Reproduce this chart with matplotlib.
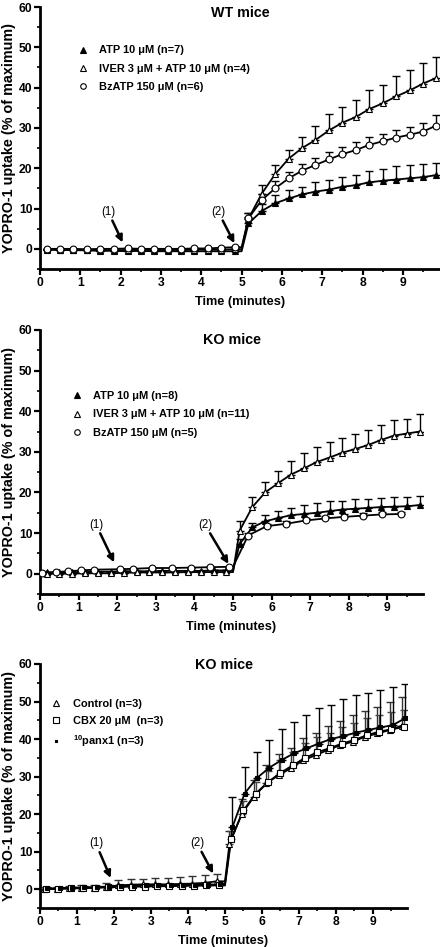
import numpy as np
import matplotlib
matplotlib.use("Agg")
import matplotlib.pyplot as plt
from matplotlib.lines import Line2D
from matplotlib.ticker import MultipleLocator

plt.rcParams['font.family'] = ['Liberation Sans', 'DejaVu Sans']
plt.rcParams['mathtext.fontset'] = 'custom'
plt.rcParams['mathtext.rm'] = 'Liberation Sans:bold'
plt.rcParams['mathtext.bf'] = 'Liberation Sans:bold'

# ---------------- data ----------------
t_pre = [0.17, 0.5, 0.83, 1.17, 1.5, 1.83, 2.17, 2.5, 2.83, 3.17, 3.5, 3.83, 4.17, 4.5, 4.83]
t_post = [5.17, 5.5, 5.83, 6.17, 6.5, 6.83, 7.17, 7.5, 7.83, 8.17, 8.5, 8.83, 9.17, 9.5, 9.83]

# Panel A: WT mice
wt_atp_pre = [-0.2, -0.3, -0.3, -0.4, -0.5, -0.5, -0.6, -0.5, -0.6, -0.6, -0.6, -0.6, -0.6, -0.6, -0.6]
wt_atp_post = [6.3, 9.4, 11.3, 12.5, 13.5, 14.2, 14.7, 15.4, 15.8, 16.5, 16.9, 17.2, 17.5, 17.8, 18.3]
wt_atp_err = [1.5, 1.8, 2.0, 2.1, 1.9, 2.3, 2.5, 2.5, 2.5, 2.8, 3.0, 3.3, 3.2, 3.2, 3.0]
wt_iver_pre = [-0.1, -0.2, -0.2, -0.3, -0.3, -0.3, -0.3, -0.2, -0.3, -0.3, -0.3, -0.2, -0.2, -0.2, -0.1]
wt_iver_post = [7.5, 13.7, 18.5, 22.4, 25.0, 27.0, 29.4, 31.3, 32.7, 34.7, 36.1, 37.8, 39.3, 41.0, 42.4]
wt_iver_err = [1.5, 2.1, 2.3, 2.2, 2.8, 3.4, 4.1, 4.0, 4.3, 4.6, 4.5, 5.1, 5.1, 5.2, 5.1]
wt_bz_pre = [0.0, 0.0, 0.0, -0.1, 0.0, 0.0, 0.1, 0.0, 0.0, 0.0, 0.0, 0.1, 0.1, 0.3, 0.4]
wt_bz_post = [7.6, 12.1, 15.0, 17.5, 19.4, 20.8, 22.2, 23.5, 24.5, 25.8, 26.7, 27.6, 28.3, 29.1, 30.6]
wt_bz_err = [1.2, 1.6, 1.8, 1.5, 1.6, 1.7, 1.8, 1.7, 2.0, 2.0, 1.9, 2.0, 2.0, 2.0, 2.7]

# Panel B: KO mice
ko_atp_pre = [0.3, 0.3, 0.4, 0.4, 0.5, 0.5, 0.6, 0.6, 0.6, 0.7, 0.7, 0.7, 0.7, 0.8, 0.8]
ko_atp_post = [7.3, 11.4, 12.9, 13.7, 14.4, 14.7, 15.0, 15.4, 15.8, 16.0, 16.2, 16.4, 16.5, 16.6, 16.9]
ko_atp_err = [1.2, 1.2, 1.6, 1.7, 1.8, 2.1, 2.4, 2.5, 2.2, 2.3, 2.2, 2.2, 2.3, 2.2, 2.2]
ko_iver_pre = [0.0, 0.0, 0.0, 0.1, 0.1, 0.1, 0.2, 0.3, 0.3, 0.3, 0.3, 0.4, 0.4, 0.4, 0.4]
ko_iver_post = [10.6, 16.4, 20.0, 22.3, 24.4, 25.9, 27.5, 28.6, 29.8, 30.7, 31.7, 32.9, 34.0, 34.5, 35.0]
ko_iver_err = [2.3, 2.6, 2.5, 3.0, 3.4, 3.7, 3.6, 3.9, 3.7, 3.8, 3.7, 3.7, 3.9, 3.5, 4.2]
ko_bz_t = [0.04, 0.41, 0.73, 1.06, 1.41, 2.07, 2.4, 2.89, 3.41, 3.91, 4.4, 4.9,
           5.39, 5.87, 6.38, 6.88, 7.38, 7.88, 8.37, 8.87, 9.36]
ko_bz = [0.1, 0.4, 0.6, 0.8, 1.0, 1.1, 1.2, 1.4, 1.4, 1.5, 1.6, 1.7,
         9.4, 11.7, 12.3, 13.1, 13.6, 14.0, 14.3, 14.6, 14.7]

# Panel C: KO mice, blockers
ctl_pre = [0.0, 0.1, 0.3, 0.4, 0.4, 0.6, 1.0, 1.2, 1.3, 1.3, 1.3, 1.4, 1.5, 1.7, 2.1]
ctl_pre_err = [0.5, 0.5, 0.5, 0.6, 0.7, 1.0, 1.5, 1.5, 1.5, 1.6, 1.7, 1.8, 1.9, 2.0, 2.0]
ctl_post = [12.0, 20.0, 24.6, 28.2, 30.4, 32.2, 34.4, 35.7, 37.1, 38.4, 39.3, 40.6, 41.5, 42.4, 43.6]
ctl_post_err = [3.5, 4.0, 4.5, 5.0, 5.5, 5.5, 6.0, 6.0, 6.5, 6.5, 7.0, 7.0, 7.0, 7.5, 7.5]
cbx_pre = [0.0, 0.1, 0.2, 0.3, 0.4, 0.5, 0.6, 0.7, 0.7, 0.8, 0.8, 0.9, 0.9, 1.0, 1.0]
cbx_pre_err = [0.3, 0.3, 0.3, 0.3, 0.4, 0.4, 0.4, 0.5, 0.5, 0.5, 0.5, 0.5, 0.5, 0.5, 0.5]
cbx_post = [13.5, 21.0, 25.5, 28.6, 31.0, 33.0, 35.0, 36.5, 37.6, 38.8, 39.8, 41.0, 42.0, 42.6, 43.2]
cbx_post_err = [2.0, 2.5, 3.0, 3.0, 3.5, 3.5, 4.0, 4.0, 4.0, 4.5, 4.5, 4.5, 4.5, 4.5, 4.5]
px_pre = [0.2, 0.3, 0.4, 0.5, 0.6, 0.7, 0.8, 0.9, 1.0, 1.0, 1.1, 1.1, 1.2, 1.2, 1.3]
px_pre_err = [0.3, 0.3, 0.3, 0.3, 0.3, 0.3, 0.3, 0.3, 0.3, 0.3, 0.3, 0.3, 0.3, 0.3, 0.3]
px_post = [16.5, 25.5, 29.6, 32.4, 34.4, 36.2, 37.5, 38.8, 40.0, 40.8, 41.7, 42.4, 43.1, 43.7, 45.5]
px_post_err = [8.0, 7.0, 7.0, 7.3, 8.2, 8.4, 8.9, 9.4, 9.2, 9.8, 10.0, 10.0, 10.1, 10.1, 9.2]

STEP_T = 5.0  # time of agonist application (sharp rise)

panel_titles = ['WT mice', 'KO mice', 'KO mice']
wt_labels = [r'ATP 10 μM (n=7)', r'IVER 3 μM + ATP 10 μM (n=4)', r'BzATP 150 μM (n=6)']
ko_labels = [r'ATP 10 μM (n=8)', r'IVER 3 μM + ATP 10 μM (n=11)', r'BzATP 150 μM (n=5)']
c_labels = ['Control (n=3)', 'CBX 20 μM  (n=3)', r'$^{10}$panx1 (n=3)']
xticks = list(range(10))
yticks = [0, 10, 20, 30, 40, 50, 60]

W, H = 440, 947
fig = plt.figure(figsize=(W / 100, H / 100), dpi=100)


def add_ax(left, top, right, bottom):
    return fig.add_axes([left / W, 1 - bottom / H, (right - left) / W, (bottom - top) / H])


axA = add_ax(40, 7, 440, 269)
axB = add_ax(40, 330, 423, 594)
axC = add_ax(40, 664, 407, 908)

LW = 1.3
MS = 4.9


def series(ax, tp, vp, tq, vq, ep_pre, ep_post, marker, mfc, ms=MS, t_offset=0.0, ecol='black'):
    tp = np.asarray(tp) + t_offset
    tq = np.asarray(tq) + t_offset
    # line: flat until the application time, then the response
    tl = np.concatenate([tp, [STEP_T], tq])
    vl = np.concatenate([vp, [vp[-1]], vq])
    ax.plot(tl, vl, color='black', lw=LW, zorder=3)
    tt = np.concatenate([tp, tq])
    vv = np.concatenate([vp, vq])
    ee = np.concatenate([ep_pre, ep_post])
    ax.errorbar(tt, vv, yerr=[np.zeros_like(ee), ee], fmt='none', ecolor=ecol,
                elinewidth=1.0, capsize=2.8, capthick=1.0, zorder=2)
    ax.plot(tt, vv, ls='none', marker=marker, ms=ms, mfc=mfc, mec='black', mew=0.8, zorder=4)


zeros15 = [0.0] * 15
# Panel A
series(axA, t_pre, wt_atp_pre, t_post, wt_atp_post, zeros15, wt_atp_err, '^', 'black')
series(axA, t_pre, wt_iver_pre, t_post, wt_iver_post, zeros15, wt_iver_err, '^', 'white')
series(axA, t_pre, wt_bz_pre, t_post, wt_bz_post, zeros15, wt_bz_err, 'o', 'white')

# Panel B
series(axB, t_pre, ko_atp_pre, t_post, ko_atp_post, zeros15, ko_atp_err, '^', 'black')
series(axB, t_pre, ko_iver_pre, t_post, ko_iver_post, zeros15, ko_iver_err, '^', 'white')
bz_t = np.asarray(ko_bz_t)
bz_v = np.asarray(ko_bz)
pre_mask = bz_t < STEP_T
series(axB, bz_t[pre_mask], bz_v[pre_mask], bz_t[~pre_mask], bz_v[~pre_mask],
       np.zeros(pre_mask.sum()), np.full((~pre_mask).sum(), 0.6), 'o', 'white')

# Panel C
series(axC, t_pre, ctl_pre, t_post, ctl_post, ctl_pre_err, ctl_post_err, '^', 'white', t_offset=-0.05, ecol='#333333')
series(axC, t_pre, cbx_pre, t_post, cbx_post, cbx_pre_err, cbx_post_err, 's', 'white', ms=4.2, ecol='#444444')
series(axC, t_pre, px_pre, t_post, px_post, px_pre_err, px_post_err, 's', 'black', ms=2.2, t_offset=0.03)

# styling
for ax in (axA, axB, axC):
    ax.set_xlim(0, 9.92)
    ax.set_ylim(-5, 60)
    ax.set_xticks(xticks)
    ax.set_yticks(yticks)
    ax.xaxis.set_minor_locator(MultipleLocator(0.5))
    ax.yaxis.set_minor_locator(MultipleLocator(5))
    for s in ('top', 'right'):
        ax.spines[s].set_visible(False)
    for s in ('left', 'bottom'):
        ax.spines[s].set_linewidth(2.0)
    ax.tick_params(which='major', direction='out', length=4, width=1.6, labelsize=8.7, pad=1.5)
    ax.tick_params(which='minor', direction='out', length=2.5, width=1.2)
    for lab in ax.get_xticklabels() + ax.get_yticklabels():
        lab.set_fontweight('bold')
    ax.set_xlabel('Time (minutes)', fontsize=9.2, fontweight='bold', labelpad=5)
    ax.set_ylabel('YOPRO-1 uptake (% of maximum)', fontsize=10.4, fontweight='bold', labelpad=2)

axA.text(0.5, 0.978, panel_titles[0], transform=axA.transAxes, ha='center', va='center',
         fontsize=10.3, fontweight='bold')
axB.text(0.5, 0.962, panel_titles[1], transform=axB.transAxes, ha='center', va='center',
         fontsize=10.3, fontweight='bold')
axC.text(0.5, 0.995, panel_titles[2], transform=axC.transAxes, ha='center', va='center',
         fontsize=10.3, fontweight='bold')


def make_legend(ax, labels, specs, anchor, spacing):
    handles = [Line2D([], [], ls='none', marker=m, ms=s, mfc=f, mec='black', mew=0.8)
               for (m, f, s) in specs]
    ax.legend(handles, labels, loc='upper left', bbox_to_anchor=anchor, frameon=False,
              handlelength=1.0, handletextpad=1.0, labelspacing=spacing, borderaxespad=0,
              prop={'size': 7.9, 'weight': 'bold'})


specs_ab = [('^', 'black', 4.0), ('^', 'white', 4.0), ('o', 'white', 4.0)]
make_legend(axA, wt_labels, specs_ab, (0.082, 0.87), 0.75)
make_legend(axB, ko_labels, specs_ab, (0.07, 0.785), 0.75)
make_legend(axC, c_labels, [('^', 'white', 4.0), ('s', 'white', 4.0), ('s', 'black', 2.0)],
            (0.018, 0.875), 0.65)

arrow = dict(arrowstyle='-|>', color='black', lw=1.8, mutation_scale=10, shrinkA=0, shrinkB=0)
ann = dict(fontsize=8.3, ha='center', va='center', arrowprops=arrow)
axA.annotate('(1)', xy=(2.05, 1.6), xytext=(1.69, 9.2), **ann)
axA.annotate('(2)', xy=(4.82, 1.4), xytext=(4.42, 9.2), **ann)
axB.annotate('(1)', xy=(1.92, 2.8), xytext=(1.45, 12.1), **ann)
axB.annotate('(2)', xy=(4.88, 2.4), xytext=(4.27, 12.1), **ann)
axC.annotate('(1)', xy=(1.91, 3.0), xytext=(1.51, 12.2), **ann)
axC.annotate('(2)', xy=(4.68, 4.2), xytext=(4.24, 12.3), **ann)

fig.savefig('out.png', dpi=100)
